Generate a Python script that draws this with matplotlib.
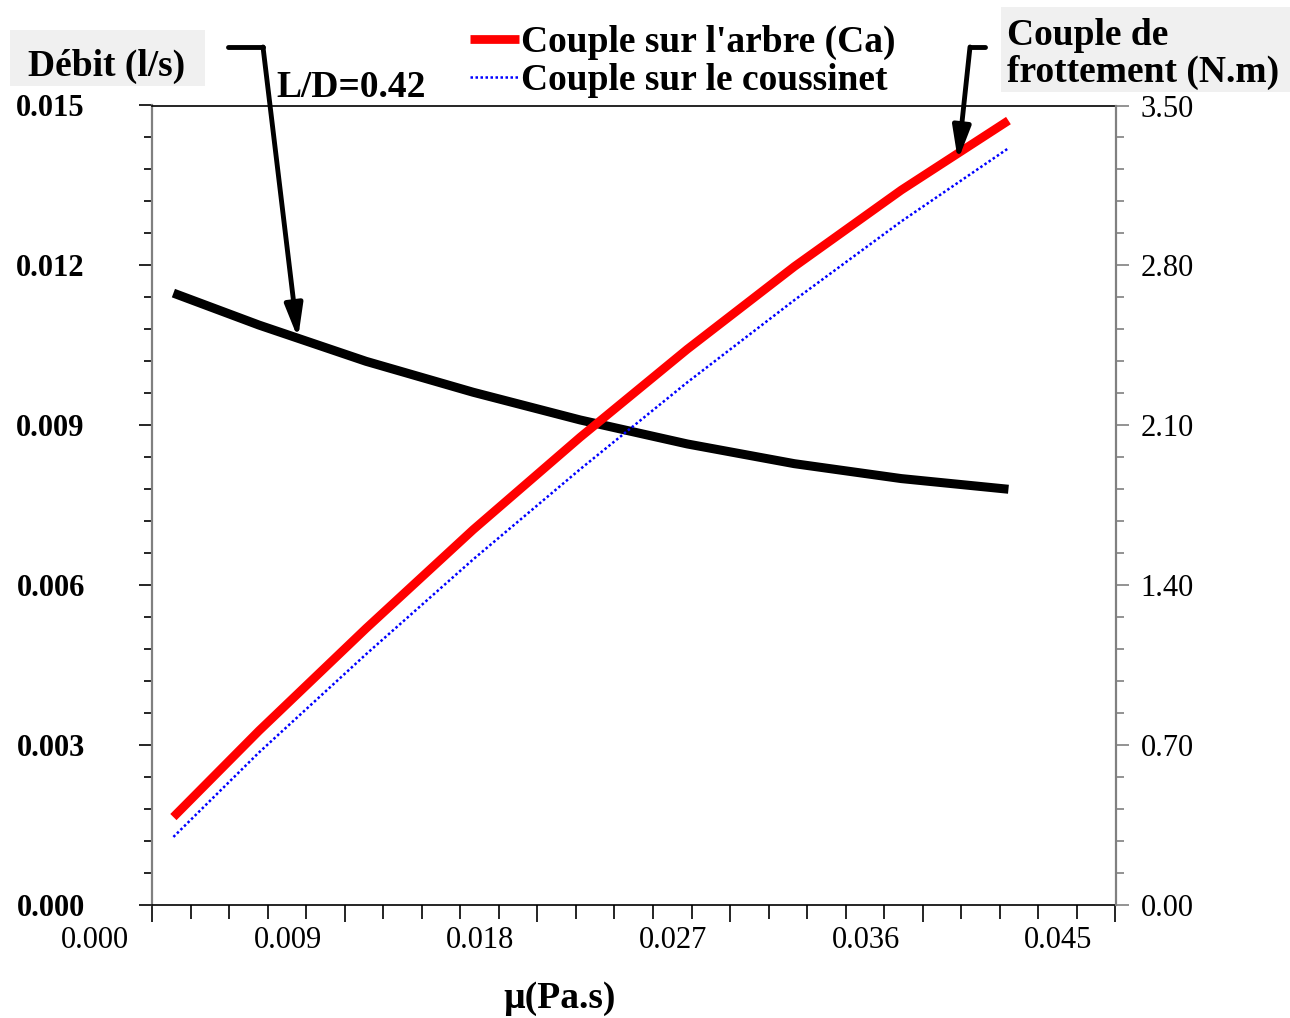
'''
viscosity effect on leakage flow and friction torque (L/D=0.42)
'''
import matplotlib.pyplot as plt
import matplotlib.transforms as mtransforms
from matplotlib.lines import Line2D
from matplotlib.patches import Rectangle
from matplotlib.ticker import MultipleLocator, FormatStrFormatter

plt.rcParams['font.family'] = ['Liberation Serif', 'DejaVu Serif']

# values
mu = [0.001, 0.005, 0.010, 0.015, 0.020, 0.025, 0.030, 0.035, 0.040]
debit = [0.01148, 0.01088, 0.01020, 0.00962, 0.00910, 0.00865, 0.00828, 0.00800, 0.00780]
couple_arbre = [0.385, 0.763, 1.211, 1.643, 2.048, 2.433, 2.795, 3.130, 3.434]
couple_coussinet = [0.298, 0.668, 1.098, 1.513, 1.908, 2.288, 2.648, 2.993, 3.313]

W, H = 1290, 1018


# top-left pixel position -> figure fraction
def fpx(x, y):
  return (x / W, 1 - y / H)


fig = plt.figure(figsize=(W / 100, H / 100), dpi=100)
ax = fig.add_axes([152 / W, 1 - 905 / H, (1115.5 - 152) / W, (905 - 105.5) / H])
ax2 = ax.twinx()

ax.plot(mu, debit, color='black', lw=6.5, solid_capstyle='butt')
l1, = ax2.plot(mu, couple_arbre, color='#ff0000', lw=6.3, solid_capstyle='butt',
               label="Couple sur l'arbre (Ca)")
l2, = ax2.plot(mu, couple_coussinet, color='#0000ff', lw=1.8, ls=(0, (1, 1)),
               label='Couple sur le coussinet')

ax.set_xlim(0, 0.045)
ax.set_ylim(0, 0.015)
ax2.set_ylim(0, 3.5)

ax.xaxis.set_major_locator(MultipleLocator(0.009))
ax.xaxis.set_minor_locator(MultipleLocator(0.0018))
ax.yaxis.set_major_locator(MultipleLocator(0.003))
ax.yaxis.set_minor_locator(MultipleLocator(0.0006))
ax2.yaxis.set_major_locator(MultipleLocator(0.7))
ax2.yaxis.set_minor_locator(MultipleLocator(0.14))
ax.xaxis.set_major_formatter(FormatStrFormatter('%.3f'))
ax.yaxis.set_major_formatter(FormatStrFormatter('%.3f'))
ax2.yaxis.set_major_formatter(FormatStrFormatter('%.2f'))

ax.tick_params(axis='x', which='major', length=12, width=1.2, labelsize=22, pad=3)
ax.tick_params(axis='x', which='minor', length=10, width=1.2)
ax.tick_params(axis='y', which='major', length=9.4, width=1.2, labelsize=22, pad=39)
ax.tick_params(axis='y', which='minor', length=5.8, width=1.2)
ax2.tick_params(axis='y', which='major', length=9.4, width=1.2, labelsize=22, pad=8.6,
                color='#808080')
ax2.tick_params(axis='y', which='minor', length=5.8, width=1.2, color='#808080')
for lab in ax.get_yticklabels():
  lab.set_fontweight('bold')

for s in ['top', 'bottom']:
  ax.spines[s].set_color('black')
  ax.spines[s].set_linewidth(1.2)
  ax2.spines[s].set_visible(False)
ax.spines['left'].set_color('#808080')
ax.spines['left'].set_linewidth(1.6)
ax.spines['right'].set_visible(False)
ax2.spines['left'].set_visible(False)
ax2.spines['right'].set_color('#808080')
ax2.spines['right'].set_linewidth(1.6)

# x tick labels sit left of their ticks in the original
offset = mtransforms.ScaledTranslation(-57 / 100, 0, fig.dpi_scale_trans)
for lab in ax.xaxis.get_majorticklabels():
  lab.set_transform(lab.get_transform() + offset)

big = dict(fontsize=27, fontweight='bold', va='baseline', ha='left')

fig.add_artist(Rectangle(fpx(10, 86), 195 / W, 56 / H, transform=fig.transFigure,
                         facecolor='#f0f0f0', edgecolor='none', zorder=0))
fig.text(*fpx(28, 76), 'Débit (l/s)', **big)
fig.add_artist(Rectangle(fpx(1001, 92), 289 / W, 85 / H, transform=fig.transFigure,
                         facecolor='#f0f0f0', edgecolor='none', zorder=0))
fig.text(*fpx(1007, 45), 'Couple de', **big)
fig.text(*fpx(1007, 82), 'frottement (N.m)', **big)
fig.text(*fpx(276, 97), 'L/D=0.42', **big)
fig.text(*fpx(560, 1008), 'µ(Pa.s)', fontsize=27, fontweight='bold', va='baseline',
         ha='center')

# pointer arrows
arrow = dict(arrowstyle='-|>,head_length=1.0,head_width=0.27', mutation_scale=20,
             lw=3.5, color='black', shrinkA=0, shrinkB=0)
fig.add_artist(Line2D([228 / W, 263 / W], [1 - 47 / H] * 2, transform=fig.transFigure,
                      lw=3.5, color='black', solid_capstyle='round'))
ax2.annotate('', xy=(0.00682, 0.01063), xycoords=ax.transData,
             xytext=fpx(263, 47), textcoords='figure fraction',
             arrowprops=arrow, annotation_clip=False)
fig.add_artist(Line2D([970 / W, 985 / W], [1 - 47 / H] * 2, transform=fig.transFigure,
                      lw=3.5, color='black', solid_capstyle='round'))
ax2.annotate('', xy=(0.03764, 3.259), xycoords='data',
             xytext=fpx(970, 47), textcoords='figure fraction',
             arrowprops=arrow, annotation_clip=False)

fig.legend(handles=[l1, l2], loc='upper left', bbox_to_anchor=fpx(470, 25),
           frameon=False, prop={'weight': 'bold', 'size': 27}, handlelength=1.3,
           handletextpad=0.05, labelspacing=0.08, borderpad=0, borderaxespad=0)

fig.savefig('out.png', dpi=100)
